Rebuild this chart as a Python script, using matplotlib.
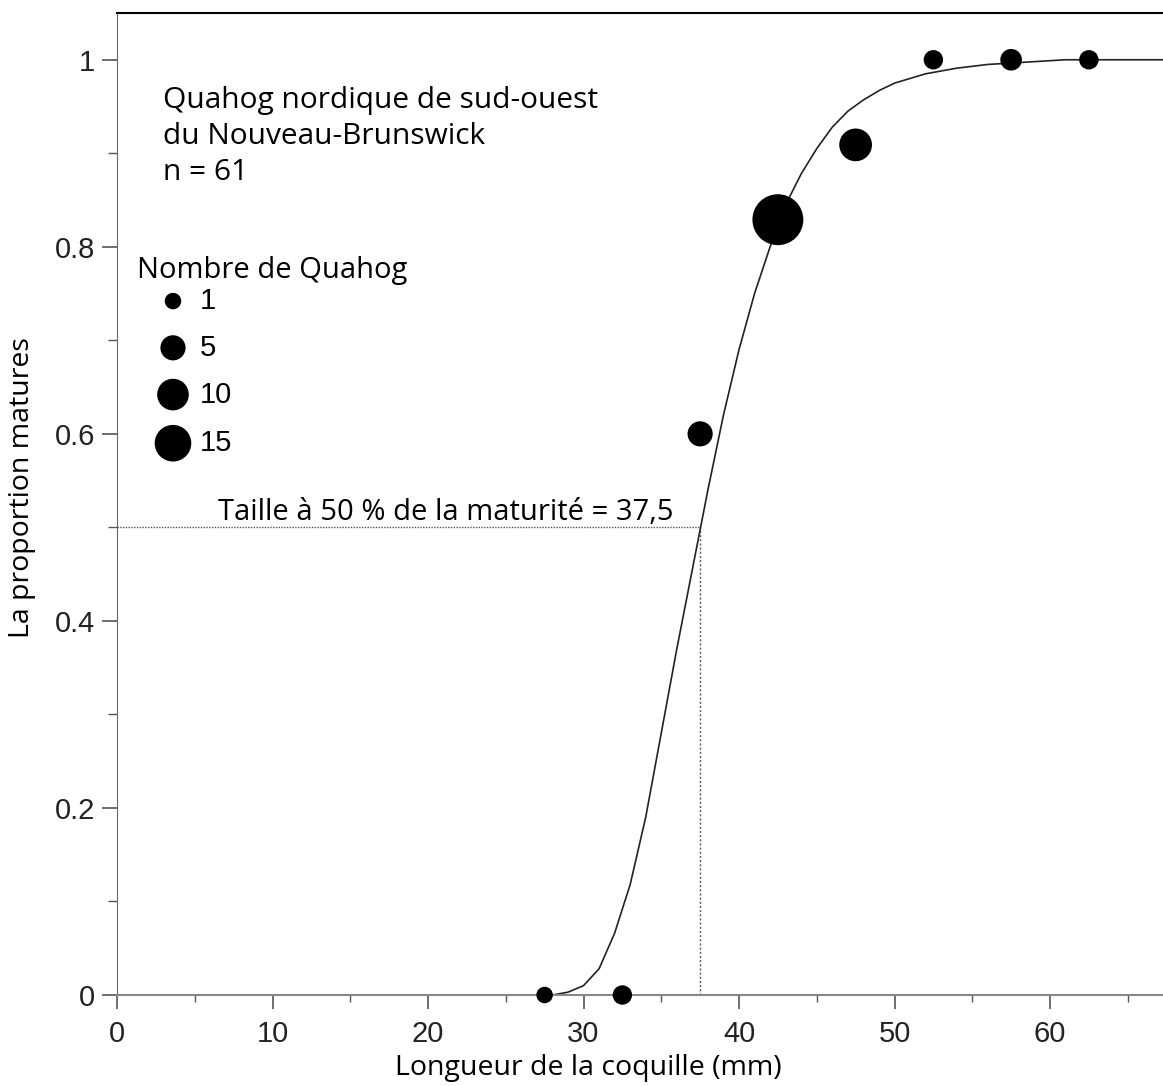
import matplotlib.pyplot as plt
import numpy as np

# observed proportions by length class (mm)
lengths = [27.5, 32.5, 37.5, 42.5, 47.5, 52.5, 57.5, 62.5]
prop_mature = [0.0, 0.0, 0.6, 0.829, 0.909, 1.0, 1.0, 1.0]
counts = [1, 2, 5, 35, 11, 2, 3, 2]

# fitted curve
curve_x = [1, 28, 29, 30, 31, 32, 33, 34, 35, 36, 37, 38, 39, 40, 41, 42, 43, 44,
           45, 46, 47, 48, 49, 50, 51, 52, 53, 54, 55, 56, 57, 58, 59, 60, 61, 67.3]
curve_y = [0.0, 0.0, 0.003, 0.010, 0.028, 0.066, 0.118, 0.19, 0.28, 0.37, 0.455,
           0.54, 0.62, 0.69, 0.75, 0.80, 0.845, 0.878, 0.905, 0.928, 0.945, 0.957,
           0.967, 0.975, 0.980, 0.985, 0.988, 0.991, 0.993, 0.995, 0.996, 0.997,
           0.998, 0.999, 1.0, 1.0]

l50 = 37.5
legend_counts = [1, 5, 10, 15]
legend_y = [0.742, 0.692, 0.642, 0.590]

xticks = [0, 10, 20, 30, 40, 50, 60]
yticks = [0, 0.2, 0.4, 0.6, 0.8, 1]
ytick_labels = ['0', '0.2', '0.4', '0.6', '0.8', '1']

txt_font = 'Open Sans'
num_font = 'Liberation Sans'


def marker_size(n):
    # diameter in px -> scatter area in pt^2
    d = 9.5 + 7.0 * np.sqrt(n)
    return (d * 0.72) ** 2


fig = plt.figure(figsize=(11.63, 10.86), dpi=100)
ax = fig.add_axes([117 / 1163, 1 - 995 / 1086, 1 - 117 / 1163, 982 / 1086])

ax.plot(curve_x, curve_y, color='#222222', lw=1.2, zorder=2)
ax.scatter(lengths, prop_mature, s=[marker_size(c) for c in counts],
           color='black', zorder=3, clip_on=False, linewidths=0)

# 50% maturity guides
ax.plot([0, l50], [0.5, 0.5], color='#555555', lw=1, ls=(0, (1, 1)), zorder=1)
ax.plot([l50, l50], [0, 0.5], color='#555555', lw=1, ls=(0, (1.5, 1.5)), zorder=1)
ax.text(6.5, 0.5, 'Taille à 50 % de la maturité = 37,5', family=txt_font,
        fontsize=21, va='bottom', ha='left')

ax.text(2.95, 0.918, 'Quahog nordique de sud-ouest\ndu Nouveau-Brunswick\nn = 61',
        family=txt_font, fontsize=21.5, va='center', ha='left', linespacing=1.32)

# size legend
ax.text(1.3, 0.775, 'Nombre de Quahog', family=txt_font, fontsize=21,
        va='center', ha='left')
ax.scatter([3.6] * len(legend_counts), legend_y,
           s=[marker_size(c) for c in legend_counts], color='black', linewidths=0)
for c, yy in zip(legend_counts, legend_y):
    ax.text(5.3, yy, str(c), family=num_font, fontsize=21, va='center', ha='left')

ax.set_xlim(0, (1163 - 117) / 15.55)
ax.set_ylim(0, 1.05)

ax.spines['right'].set_visible(False)
ax.spines['top'].set_color('black')
ax.spines['top'].set_linewidth(1.5)
ax.spines['left'].set_color('#666666')
ax.spines['bottom'].set_color('#888888')
ax.spines['bottom'].set_linewidth(1.5)

ax.set_xticks(xticks)
ax.set_xticks(np.arange(5, 70, 10), minor=True)
ax.set_yticks(yticks)
ax.set_yticklabels(ytick_labels)
ax.set_yticks(np.arange(0.1, 1.05, 0.2), minor=True)
ax.tick_params(axis='x', which='major', length=10, width=1.2, color='#555555',
               pad=8, labelsize=21)
ax.tick_params(axis='x', which='minor', length=5, width=1, color='#555555')
ax.tick_params(axis='y', which='major', length=11, width=1.2, color='#555555',
               pad=5, labelsize=21)
ax.tick_params(axis='y', which='minor', length=6.5, width=1, color='#555555')
for lab in ax.get_xticklabels() + ax.get_yticklabels():
    lab.set_family(num_font)
    lab.set_color('#222222')

ax.set_xlabel('Longueur de la coquille (mm)', family=txt_font, fontsize=20.5, va='center')
ax.xaxis.set_label_coords((588 - 117) / 1046, (995 - 1068) / 982)
ax.set_ylabel('La proportion matures', family=txt_font, fontsize=20.5, va='center')
ax.yaxis.set_label_coords(-(117 - 22) / 1046, (995 - 488) / 982)

fig.savefig('out.png', dpi=100)
